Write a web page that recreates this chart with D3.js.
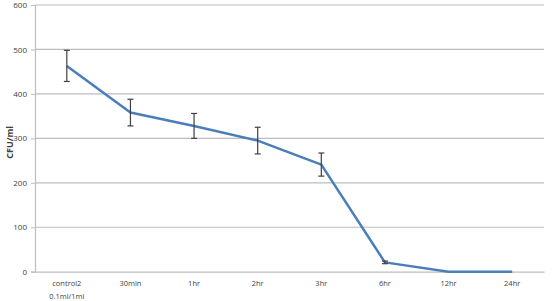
<!DOCTYPE html>
<html>
<head>
<meta charset="utf-8">
<script src="https://cdn.jsdelivr.net/npm/d3@7"></script>
<style>
  body { margin: 0; background: #fff; }
  text { font-family: "Open Sans", "Liberation Sans", sans-serif; }
</style>
</head>
<body>
<div id="container"></div>
<script>
let w = 556;
let h = 301;

// chart data
let categories = ["control2\n0.1ml/1ml", "30min", "1hr", "2hr", "3hr", "6hr", "12hr", "24hr"];
let cfuValues = [463, 358, 328, 295, 241, 21, 0, 0];
let errValues = [35, 30, 28, 30, 26, 3, 0, 0];
let yTicks = [0, 100, 200, 300, 400, 500, 600];

let padLeft = 35, padRight = 544, padTop = 5, padBottom = 271.7;

let viz = d3.select("#container")
  .append("svg")
  .attr("width", w)
  .attr("height", h);

let xScale = d3.scaleBand().domain(categories).range([padLeft, padRight]);
let yScale = d3.scaleLinear().domain([0, 600]).range([padBottom, padTop]);

// gridlines
viz.append('g').selectAll('line')
  .data(yTicks.filter(d => d > 0))
  .enter().append('line')
  .attr('x1', padLeft).attr('x2', padRight)
  .attr('y1', d => yScale(d)).attr('y2', d => yScale(d))
  .attr('stroke', '#bdbdbd').attr('stroke-width', 1.2);

// y axis
let yAxisGroup = viz.append('g').attr('transform', 'translate(' + padLeft + ',0)');
yAxisGroup.call(d3.axisLeft(yScale).tickValues(yTicks).tickSize(4).tickPadding(4));
yAxisGroup.select('.domain').attr('stroke', '#bdbdbd').attr('stroke-width', 1.2);
yAxisGroup.selectAll('.tick line').attr('stroke', '#bdbdbd');
yAxisGroup.selectAll('.tick text').attr('fill', '#404040').attr('font-size', 8);

// x axis
let xAxisGroup = viz.append('g').attr('transform', 'translate(0,' + padBottom + ')');
xAxisGroup.call(d3.axisBottom(xScale).tickSize(0).tickPadding(9));
xAxisGroup.select('.domain').attr('stroke', '#bdbdbd').attr('stroke-width', 1.2);
xAxisGroup.selectAll('.tick text')
  .attr('fill', '#404040').attr('font-size', 7.5)
  .each(function (d) {
    let parts = d.split('\n');
    let t = d3.select(this).text(null);
    parts.forEach((p, i) => {
      t.append('tspan').attr('x', 0).attr('dy', i === 0 ? '0.71em' : '1.75em').text(p);
    });
  });

// y title
viz.append('text')
  .attr('transform', 'translate(13,' + ((padTop + padBottom) / 2 + 4) + ') rotate(-90)')
  .attr('text-anchor', 'middle')
  .attr('font-size', 9)
  .attr('font-weight', 'bold')
  .attr('fill', '#404040')
  .text('CFU/ml');

let pts = categories.map((c, i) => ({ c: c, v: cfuValues[i], e: errValues[i] }));
let cx = d => xScale(d.c) + xScale.bandwidth() / 2;

// line
viz.append('path')
  .datum(pts)
  .attr('fill', 'none')
  .attr('stroke', '#4a7ebb')
  .attr('stroke-width', 2.5)
  .attr('stroke-linejoin', 'round')
  .attr('d', d3.line().x(cx).y(d => yScale(d.v)));

// error bars
let eb = viz.append('g').selectAll('g')
  .data(pts.filter(d => d.e > 0))
  .enter().append('g')
  .attr('stroke', '#404040').attr('stroke-width', 1.2);
eb.append('line')
  .attr('x1', cx).attr('x2', cx)
  .attr('y1', d => yScale(d.v + d.e)).attr('y2', d => yScale(d.v - d.e));
eb.append('line')
  .attr('x1', d => cx(d) - 3).attr('x2', d => cx(d) + 3)
  .attr('y1', d => yScale(d.v + d.e)).attr('y2', d => yScale(d.v + d.e));
eb.append('line')
  .attr('x1', d => cx(d) - 3).attr('x2', d => cx(d) + 3)
  .attr('y1', d => yScale(d.v - d.e)).attr('y2', d => yScale(d.v - d.e));
</script>
</body>
</html>
